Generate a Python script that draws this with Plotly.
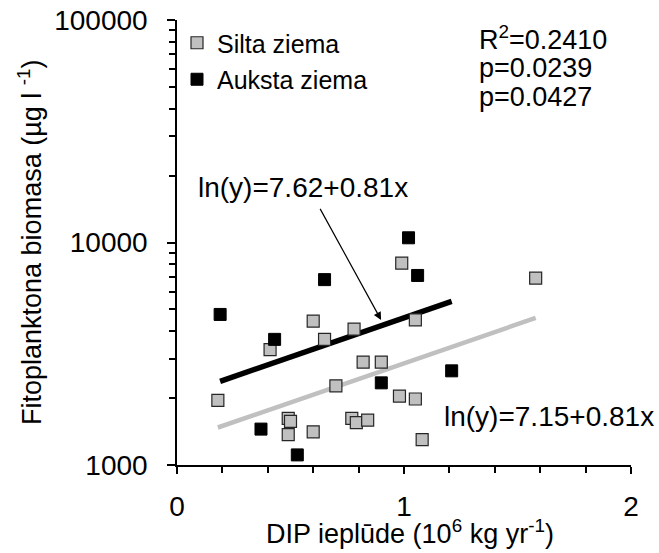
import numpy as np
import plotly.graph_objects as go

# ---- data ----
silta_x = [0.18, 0.41, 0.60, 0.65, 0.78, 0.99, 1.05, 0.82, 0.90, 0.70, 0.98,
           1.05, 0.49, 0.50, 0.49, 0.60, 0.77, 0.79, 0.84, 1.08, 1.58]
silta_y = [1950, 3300, 4430, 3670, 4080, 8070, 4490, 2900, 2900, 2270, 2040,
           1980, 1620, 1570, 1370, 1410, 1620, 1550, 1590, 1300, 6920]
auksta_x = [0.19, 0.37, 0.43, 0.53, 0.65, 0.90, 1.02, 1.06, 1.21]
auksta_y = [4750, 1450, 3670, 1110, 6810, 2340, 10500, 7110, 2650]

silta_a, silta_b = 7.15, 0.81
auksta_a, auksta_b = 7.62, 0.81

x_ticks = [0, 1, 2]
x_minor = [0.2, 0.4, 0.6, 0.8, 1.2, 1.4, 1.6, 1.8]
y_ticks = [1000, 10000, 100000]
y_ticktext = ["1000", "10000", "100000"]
y_minor = [m * d for d in (1000, 10000) for m in range(2, 10)]

stats_lines = ["R<sup>2</sup>=0.2410", "p=0.0239", "p=0.0427"]
x_title = "DIP ieplūde (10<sup>6</sup> kg yr<sup>-1</sup>)"
y_title = "Fitoplanktona biomasa (µg l <sup>-1</sup>)"

FONT = "Liberation Sans, Arial, sans-serif"
L, R, T, B, W, H = 177, 28, 20, 88, 659, 553
PW, PH = W - L - R, H - T - B


def px_to_paper_y(py):
    return 1 - (py - T) / PH


fig = go.Figure()

# regression lines
for xs, a, b, col, w in [(silta_x, silta_a, silta_b, "#c0c0c0", 4.5),
                         (auksta_x, auksta_a, auksta_b, "#000000", 5.5)]:
    lx = np.array([min(xs), max(xs)])
    ly = np.exp(a + b * lx)
    fig.add_trace(go.Scatter(x=lx, y=ly, mode="lines", showlegend=False,
                             line=dict(color=col, width=w), hoverinfo="skip"))

fig.add_trace(go.Scatter(x=silta_x, y=silta_y, mode="markers", name="Silta ziema",
                         legendgroup="a",
                         marker=dict(symbol="square", size=12, color="#c0c0c0",
                                     line=dict(color="#262626", width=1.2))))
fig.add_trace(go.Scatter(x=auksta_x, y=auksta_y, mode="markers", name="Auksta ziema",
                         legendgroup="b",
                         marker=dict(symbol="square", size=12, color="#000000",
                                     line=dict(color="#000000", width=1))))

# stats text
for i, t in enumerate(stats_lines):
    fig.add_annotation(text=t, xref="paper", yref="paper", x=(477 - L) / PW,
                       xanchor="left", y=px_to_paper_y(38 + 29.5 * i), yanchor="middle",
                       showarrow=False, font=dict(size=27, family=FONT, color="black"))

# equation labels (log axis -> log10 coordinates)
fig.add_annotation(text="ln(y)=7.62+0.81x", x=0.084, y=4.245, xanchor="left",
                   yanchor="middle", showarrow=False,
                   font=dict(size=28, family=FONT, color="black"))
fig.add_annotation(text="ln(y)=7.15+0.81x", x=1.166, y=3.217, xanchor="left",
                   yanchor="middle", showarrow=False,
                   font=dict(size=28, family=FONT, color="black"))
# arrow
fig.add_annotation(text="", x=0.899, y=3.652, ax=0.627, ay=4.158,
                   xref="x", yref="y", axref="x", ayref="y",
                   showarrow=True, arrowhead=2, arrowsize=1.3, arrowwidth=1.2,
                   arrowcolor="black")

# axis titles
fig.add_annotation(text=x_title, xref="paper", yref="paper", x=(410 - L) / PW,
                   y=px_to_paper_y(532), xanchor="center", yanchor="middle",
                   showarrow=False, font=dict(size=27, family=FONT, color="black"))
fig.add_annotation(text=y_title, xref="paper", yref="paper", x=(30 - L) / PW,
                   y=px_to_paper_y(242), xanchor="center", yanchor="middle",
                   textangle=-90, showarrow=False,
                   font=dict(size=27, family=FONT, color="black"))

fig.update_layout(
    width=W, height=H,
    margin=dict(l=L, r=R, t=T, b=B, autoexpand=False),
    paper_bgcolor="white", plot_bgcolor="white",
    font=dict(family=FONT, color="black", size=28),
    legend=dict(x=0.0, y=1.0, xanchor="left", yanchor="top",
                font=dict(size=25, family=FONT), tracegroupgap=1,
                itemsizing="trace", bgcolor="rgba(0,0,0,0)"),
    xaxis=dict(range=[0, 2], tickvals=x_ticks, ticks="outside", ticklen=7,
               tickwidth=1.5, tickcolor="black", showline=True, linecolor="black",
               linewidth=1.5, showgrid=False, zeroline=False, automargin=False,
               tickfont=dict(size=28), ticklabelstandoff=9,
               minor=dict(tickvals=x_minor, ticks="outside", ticklen=6,
                          tickwidth=1.5, tickcolor="black", showgrid=False)),
    yaxis=dict(type="log", range=[3, 5], tickvals=y_ticks, ticktext=y_ticktext,
               ticks="outside", ticklen=8, tickwidth=1.5, tickcolor="black",
               showline=True, linecolor="black", linewidth=1.5, showgrid=False,
               zeroline=False, automargin=False, tickfont=dict(size=28),
               ticklabelstandoff=14,
               minor=dict(tickvals=y_minor, ticks="outside", ticklen=6,
                          tickwidth=1.5, tickcolor="black", showgrid=False)),
)

fig.write_html("out.html")
